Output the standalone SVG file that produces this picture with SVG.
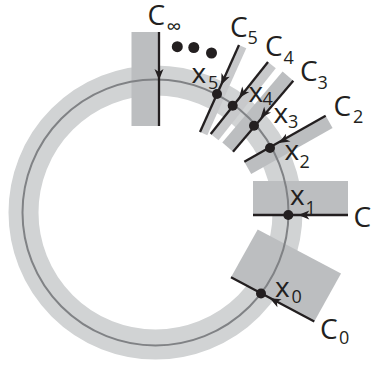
<svg xmlns="http://www.w3.org/2000/svg" xmlns:xlink="http://www.w3.org/1999/xlink" width="375" height="366" viewBox="0 0 375 366">
<style>
.ring{fill:none;stroke:#d1d3d4;stroke-width:30}
.track{fill:none;stroke:#808285;stroke-width:2}
.band{fill:#bcbec0}
.band2{fill:#c8c9cb}
.ln{stroke:#231f20;stroke-width:2.3;fill:none}
.dot{fill:#231f20}
.ah{fill:#231f20}
.t{font-family:"Open Sans","Noto Sans",sans-serif;font-size:28px;fill:#231f20}
.s{font-family:"Open Sans","Noto Sans",sans-serif;font-size:18px;fill:#231f20}
</style>
<defs>
<path id="arrow" d="M0,0 L-11,-4.5 L-8,0 L-11,4.5 Z"/>
</defs>
<rect width="375" height="366" fill="#fff"/>
<g id="ring">
<circle class="ring" cx="155.5" cy="212.5" r="132"/>
</g>
<g id="bands">
<rect class="band" x="131.5" y="32" width="26.5" height="94"/>
<polygon class="band2" points="239,45 200,132 207.3,135.3 246.3,48.3"/>
<polygon class="band2" points="268,62 210.7,134 218.5,140.2 275.8,68.2"/>
<polygon class="band" points="293.3,80.7 233,151.7 222.3,142.6 282.6,71.6"/>
<polygon class="band" points="325.7,115.7 244.3,161.7 251.2,173.9 332.6,127.9"/>
<rect class="band" x="253" y="181" width="95" height="34"/>
<polygon class="band" points="231,277.3 314.3,321.5 341,273.5 257.7,229.5"/>
</g>
<g id="trackline">
<circle class="track" cx="155.5" cy="212.5" r="133"/>
</g>
<g id="connectors">
<line class="ln" x1="159" y1="32" x2="159" y2="126"/>
<line class="ln" x1="239" y1="45" x2="200" y2="132"/>
<line class="ln" x1="268" y1="62" x2="210.7" y2="134"/>
<line class="ln" x1="293.3" y1="80.7" x2="233" y2="151.7"/>
<line class="ln" x1="325.7" y1="115.7" x2="244.3" y2="161.7"/>
<line class="ln" x1="253" y1="215" x2="348" y2="215"/>
<line class="ln" x1="231" y1="277.3" x2="314.3" y2="321.5"/>
<use xlink:href="#arrow" class="ah" transform="translate(159,80) rotate(90)"/>
<use xlink:href="#arrow" class="ah" transform="translate(221.1,84.9) rotate(114.2)"/>
<use xlink:href="#arrow" class="ah" transform="translate(238.9,97.9) rotate(128.5)"/>
<use xlink:href="#arrow" class="ah" transform="translate(260.5,118.1) rotate(130.3)"/>
<use xlink:href="#arrow" class="ah" transform="translate(278.7,143.1) rotate(150.5)"/>
<use xlink:href="#arrow" class="ah" transform="translate(298.3,215) rotate(180)"/>
<use xlink:href="#arrow" class="ah" transform="translate(269.8,298.2) rotate(207.9)"/>
</g>
<g id="dots">
<circle class="dot" cx="217" cy="94" r="5"/>
<circle class="dot" cx="232.7" cy="105.7" r="5"/>
<circle class="dot" cx="254" cy="125.7" r="5"/>
<circle class="dot" cx="270" cy="148" r="5"/>
<circle class="dot" cx="288.3" cy="215" r="5"/>
<circle class="dot" cx="261" cy="293.5" r="5"/>
<circle class="dot" cx="177.3" cy="46.7" r="5.5"/>
<circle class="dot" cx="193.8" cy="47.5" r="5.5"/>
<circle class="dot" cx="211.5" cy="53" r="5.5"/>
</g>
<g id="labels">
<text class="t" x="147.5" y="25">C</text><text class="s" x="166.5" y="34" style="font-size:21px">∞</text>
<text class="t" x="230" y="36.5">C</text><text class="s" x="247.5" y="43.5">5</text>
<text class="t" x="265" y="55.5">C</text><text class="s" x="283.5" y="63.5">4</text>
<text class="t" x="300" y="80.5">C</text><text class="s" x="317.5" y="88.5">3</text>
<text class="t" x="333.5" y="115.5">C</text><text class="s" x="353" y="122.5">2</text>
<text class="t" x="353.5" y="226.5">C</text>
<text class="t" x="320" y="338.5">C</text><text class="s" x="339" y="344">0</text>
<text class="t" x="191.5" y="83">x</text><text class="s" x="208" y="88.5">5</text>
<text class="t" x="248.5" y="102">x</text><text class="s" x="262.5" y="104.5">4</text>
<text class="t" x="273.5" y="123">x</text><text class="s" x="288" y="127.5">3</text>
<text class="t" x="284.5" y="160">x</text><text class="s" x="299.5" y="167.5">2</text>
<text class="t" x="290" y="205">x</text><text class="s" x="305.5" y="213.5">1</text>
<text class="t" x="275" y="297">x</text><text class="s" x="291.5" y="302.5">0</text>
</g>
</svg>
